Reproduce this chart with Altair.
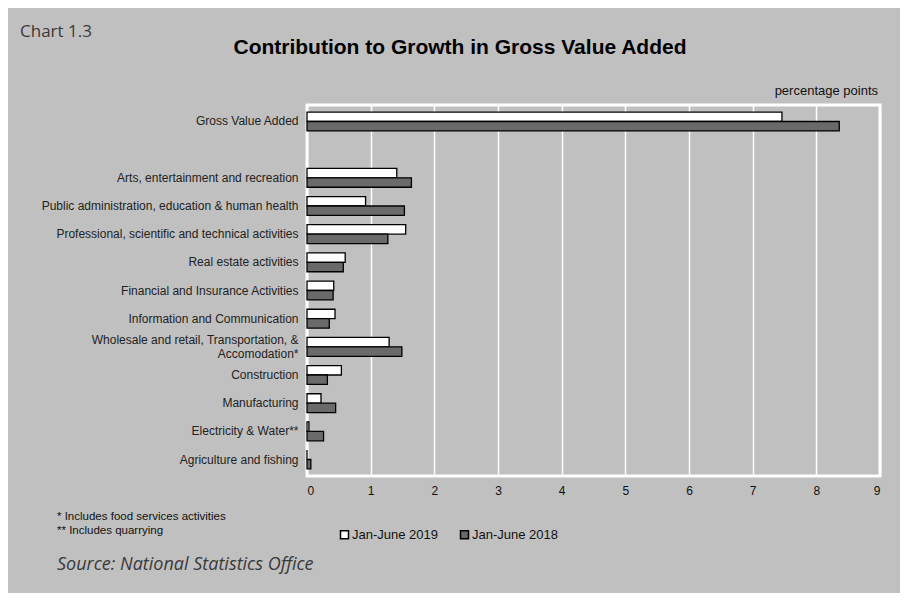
import altair as alt
import pandas as pd

categories = [
    "Gross Value Added",
    " ",
    "Arts, entertainment and recreation",
    "Public administration, education & human health",
    "Professional, scientific and technical activities",
    "Real estate activities",
    "Financial and Insurance Activities",
    "Information and Communication",
    "Wholesale and retail, Transportation, &|Accomodation*",
    "Construction",
    "Manufacturing",
    "Electricity & Water**",
    "Agriculture and fishing",
]
series = ["Jan-June 2019", "Jan-June 2018"]
values_2019 = [7.46, None, 1.41, 0.92, 1.55, 0.60, 0.42, 0.44, 1.29, 0.54, 0.22, 0.03, 0.00]
values_2018 = [8.36, None, 1.64, 1.53, 1.27, 0.57, 0.41, 0.35, 1.49, 0.32, 0.45, 0.26, 0.06]
x_ticks = [0, 1, 2, 3, 4, 5, 6, 7, 8, 9]

rows = []
for c, a, b in zip(categories, values_2019, values_2018):
    if a is not None:
        rows.append({"cat": c, "series": series[0], "value": a})
        rows.append({"cat": c, "series": series[1], "value": b})
df = pd.DataFrame(rows)

bars = alt.Chart(df).mark_bar(stroke="black", strokeWidth=1.3).encode(
    x=alt.X("value:Q", scale=alt.Scale(domain=[0, 9], nice=False),
            axis=alt.Axis(values=x_ticks, title=None, format="d", grid=True,
                          gridColor="white", gridWidth=1.5, ticks=False, domain=False,
                          labelPadding=9, labelFontSize=12, labelFont="Liberation Sans",
                          labelColor="#111")),
    y=alt.Y("cat:N", sort=categories,
            scale=alt.Scale(domain=categories, paddingInner=0.33, paddingOuter=0.25),
            axis=alt.Axis(title=None, ticks=False, domain=False, labelPadding=9,
                          labelFontSize=12, labelFont="Liberation Sans", labelColor="#222",
                          labelLimit=400, labelLineHeight=14,
                          labelOffset={"condition": {"test": "indexof(datum.value, '|') >= 0",
                                                     "value": -7},
                                       "value": 0},
                          labelExpr="split(datum.label, '|')")),
    yOffset=alt.YOffset("series:N", sort=series, scale=alt.Scale(domain=series, paddingInner=0)),
    color=alt.Color("series:N", sort=series,
                    scale=alt.Scale(domain=series, range=["#ffffff", "#6a6a6a"]),
                    legend=alt.Legend(title=None, orient="none", legendX=31, legendY=423,
                                      direction="horizontal", symbolType="square",
                                      symbolSize=64, symbolStrokeColor="black",
                                      symbolStrokeWidth=1.5, labelFontSize=13,
                                      labelFont="Liberation Sans", labelColor="#111",
                                      columnPadding=18, labelOffset=1)),
)


def label(text, x, y, size, weight="normal", style="normal", align="left",
          font="Liberation Sans", color="#111"):
    return alt.Chart(pd.DataFrame({"t": [text]})).mark_text(
        align=align, baseline="middle", fontSize=size, fontWeight=weight,
        fontStyle=style, font=font, color=color,
    ).encode(x=alt.value(x), y=alt.value(y), text="t:N")


texts = [
    label("Chart 1.3", -287, -73, 17, font="Open Sans", color="#3a3a3a"),
    label("Contribution to Growth in Gross Value Added", 153, -57, 21, weight="bold",
          align="center", color="#000"),
    label("percentage points", 571, -14, 13, align="right"),
    label("* Includes food services activities", -250, 412, 11.5),
    label("** Includes quarrying", -250, 426, 11.5),
    label("Source: National Statistics Office", -250, 460, 18, style="italic",
          font="Open Sans", color="#3a3a3a"),
]

chart = alt.layer(bars, *texts).properties(
    width=573, height=371,
    autosize=alt.AutoSizeParams(type="none"),
    padding={"left": 299, "top": 97, "right": 20, "bottom": 117},
    background="#c0c0c0",
).configure_view(stroke="white", strokeWidth=3, fill="#c0c0c0")

chart.save("out.html", embed_options={"renderer": "svg", "actions": False})
